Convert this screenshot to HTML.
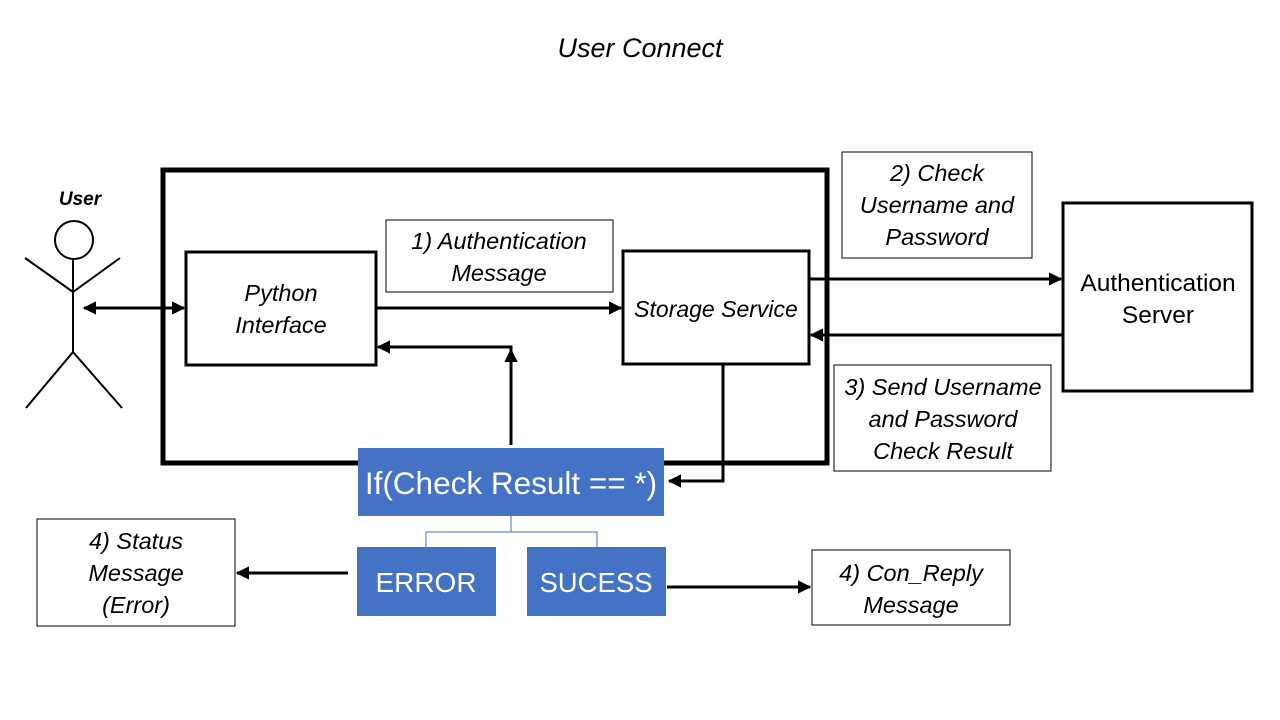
<!DOCTYPE html>
<html><head><meta charset="utf-8"><style>
html,body{margin:0;padding:0;background:#fff;}
svg{display:block;}
text{font-family:"Liberation Sans","DejaVu Sans",sans-serif;}
.i{font-style:italic;font-size:23.5px;fill:#000;}
</style></head><body>
<svg width="1280" height="720" viewBox="0 0 1280 720" xmlns="http://www.w3.org/2000/svg">
<defs>
<marker id="a" viewBox="0 0 10 10" refX="9" refY="5" markerWidth="4.5" markerHeight="4.5" orient="auto-start-reverse"><path d="M0,0 L10,5 L0,10 z" fill="#000"/></marker>
</defs>
<rect width="1280" height="720" fill="#fff"/>
<text x="640" y="57" text-anchor="middle" class="i" style="font-size:27px">User Connect</text>

<rect x="163" y="170" width="664" height="293" fill="none" stroke="#000" stroke-width="5"/>
<rect x="186" y="252" width="190" height="113" fill="#fff" stroke="#000" stroke-width="3"/>
<text x="281" y="301" text-anchor="middle" class="i">Python</text>
<text x="281" y="333" text-anchor="middle" class="i">Interface</text>
<rect x="623" y="251" width="186" height="113" fill="#fff" stroke="#000" stroke-width="3"/>
<text x="716" y="317" text-anchor="middle" class="i" style="font-size:23px">Storage Service</text>

<rect x="386" y="220" width="227" height="72" fill="#fff" stroke="#000" stroke-width="1"/>
<text x="499" y="249" text-anchor="middle" class="i">1) Authentication</text>
<text x="499" y="281" text-anchor="middle" class="i">Message</text>

<rect x="842" y="152" width="190" height="106" fill="#fff" stroke="#000" stroke-width="1"/>
<text x="937" y="181" text-anchor="middle" class="i">2) Check</text>
<text x="937" y="213" text-anchor="middle" class="i">Username and</text>
<text x="937" y="245" text-anchor="middle" class="i">Password</text>

<rect x="1063" y="203" width="189" height="188" fill="#fff" stroke="#000" stroke-width="3"/>
<text x="1158" y="291" text-anchor="middle" style="font-size:24.5px">Authentication</text>
<text x="1158" y="323" text-anchor="middle" style="font-size:24.5px">Server</text>

<rect x="834" y="365" width="217" height="106" fill="#fff" stroke="#000" stroke-width="1"/>
<text x="943" y="395" text-anchor="middle" class="i">3) Send Username</text>
<text x="943" y="427" text-anchor="middle" class="i">and Password</text>
<text x="943" y="459" text-anchor="middle" class="i">Check Result</text>

<rect x="37" y="519" width="198" height="107" fill="#fff" stroke="#000" stroke-width="1"/>
<text x="136" y="549" text-anchor="middle" class="i">4) Status</text>
<text x="136" y="581" text-anchor="middle" class="i">Message</text>
<text x="136" y="613" text-anchor="middle" class="i">(Error)</text>

<rect x="812" y="550" width="198" height="75" fill="#fff" stroke="#000" stroke-width="1"/>
<text x="911" y="581" text-anchor="middle" class="i">4) Con_Reply</text>
<text x="911" y="613" text-anchor="middle" class="i">Message</text>

<!-- stick figure -->
<text x="80" y="205" text-anchor="middle" style="font-size:19px;font-weight:bold;font-style:italic">User</text>
<circle cx="74" cy="240" r="19" fill="none" stroke="#000" stroke-width="2"/>
<line x1="73" y1="259" x2="73" y2="352" stroke="#000" stroke-width="2"/>
<polyline points="25,258 73,292 120,258" fill="none" stroke="#000" stroke-width="2"/>
<polyline points="26,408 73,352 122,408" fill="none" stroke="#000" stroke-width="2"/>

<!-- connectors -->
<line x1="84" y1="308" x2="184" y2="308" stroke="#000" stroke-width="3" marker-start="url(#a)" marker-end="url(#a)"/>
<line x1="377" y1="308" x2="621" y2="308" stroke="#000" stroke-width="3" marker-end="url(#a)"/>
<polyline points="511,445 511,347 378,347" fill="none" stroke="#000" stroke-width="3" marker-end="url(#a)"/>
<line x1="511" y1="360" x2="511" y2="350" stroke="#000" stroke-width="3" marker-end="url(#a)"/>
<polyline points="723,364 723,481 669,481" fill="none" stroke="#000" stroke-width="3" marker-end="url(#a)"/>
<line x1="809" y1="279" x2="1061" y2="279" stroke="#000" stroke-width="3" marker-end="url(#a)"/>
<line x1="1063" y1="335" x2="811" y2="335" stroke="#000" stroke-width="3" marker-end="url(#a)"/>
<line x1="348" y1="573" x2="237" y2="573" stroke="#000" stroke-width="3" marker-end="url(#a)"/>
<line x1="667" y1="587" x2="810" y2="587" stroke="#000" stroke-width="3" marker-end="url(#a)"/>

<!-- blue boxes -->
<rect x="358" y="448" width="306" height="68" fill="#4472C4"/>
<text x="511" y="494" text-anchor="middle" fill="#fff" style="font-size:31.5px">If(Check Result == *)</text>
<polyline points="511,516 511,532 426,532 426,547" fill="none" stroke="#4472C4" stroke-width="1"/>
<polyline points="511,532 597,532 597,547" fill="none" stroke="#4472C4" stroke-width="1"/>
<rect x="357" y="547" width="139" height="69" fill="#4472C4"/>
<text x="426" y="592" text-anchor="middle" fill="#fff" style="font-size:28px">ERROR</text>
<rect x="527" y="547" width="139" height="69" fill="#4472C4"/>
<text x="596" y="592" text-anchor="middle" fill="#fff" style="font-size:27.5px">SUCESS</text>
</svg>
</body></html>
